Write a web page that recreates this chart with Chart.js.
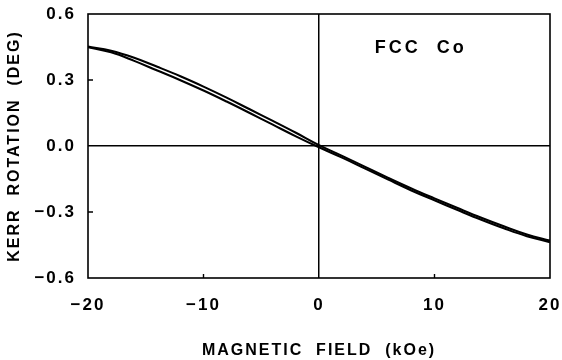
<!DOCTYPE html>
<html>
<head>
<meta charset="utf-8">
<script src="https://cdn.jsdelivr.net/npm/chart.js@4"></script>
<style>
  html, body { margin: 0; padding: 0; background: #fff; }
  #wrap { width: 562px; height: 360px; }
</style>
</head>
<body>
<div id="wrap"><canvas id="kerr"></canvas></div>
<script>
// field sweep (kOe) and Kerr rotation (deg) for the two branches of the loop
const fields = [-20, -18, -16, -14, -12, -10, -8, -6, -4, -2, 0, 2, 4, 6, 8, 10, 12, 14, 16, 18, 20];
const kerrUpper = [0.452, 0.433, 0.401, 0.360, 0.317, 0.270, 0.220, 0.167, 0.114, 0.060, 0.004,
  -0.045, -0.095, -0.145, -0.193, -0.238, -0.282, -0.325, -0.365, -0.402, -0.430];
const kerrLower = [0.449, 0.426, 0.387, 0.343, 0.299, 0.252, 0.202, 0.150, 0.097, 0.044, -0.006,
  -0.053, -0.103, -0.153, -0.202, -0.247, -0.291, -0.334, -0.374, -0.410, -0.437];

const xTickLabels = ['−20', '−10', '0', '10', '20'];
const yTickLabels = ['−0.6', '−0.3', '0.0', '0.3', '0.6'];
const sampleLabel = 'FCC  Co';
const sampleAt = { x: 8.8, y: 0.445 };

const tickFont = { family: 'Liberation Sans, Arial, sans-serif', size: 17, weight: 'bold' };
const titleFont = { family: 'Liberation Sans, Arial, sans-serif', size: 16, weight: 'bold' };

const toPoints = (ys) => fields.map((x, i) => ({ x, y: ys[i] }));

// only the zero lines are drawn across the plot
const zeroLine = (ctx) => (ctx.tick && ctx.tick.value === 0 ? '#000' : 'rgba(0,0,0,0)');

const spacing = {
  id: 'spacing',
  beforeUpdate(chart) { chart.ctx.letterSpacing = '2px'; },
  beforeDraw(chart) { chart.ctx.letterSpacing = '2px'; }
};

const frame = {
  id: 'frame',
  afterDatasetsDraw(chart) {
    const { ctx, chartArea: a, scales: { x, y } } = chart;
    ctx.save();
    ctx.strokeStyle = '#000';
    ctx.lineWidth = 1.6;
    ctx.strokeRect(a.left, a.top, a.right - a.left, a.bottom - a.top);
    // short inward ticks
    ctx.lineWidth = 1.4;
    ctx.beginPath();
    [-10, 10].forEach(v => {
      const px = x.getPixelForValue(v);
      ctx.moveTo(px, a.bottom);
      ctx.lineTo(px, a.bottom - 4);
    });
    [-0.3, 0.3].forEach(v => {
      const py = y.getPixelForValue(v);
      ctx.moveTo(a.left, py);
      ctx.lineTo(a.left + 5, py);
    });
    ctx.stroke();
    // sample name
    ctx.letterSpacing = '3px';
    ctx.font = 'bold 18px Liberation Sans, Arial, sans-serif';
    ctx.fillStyle = '#000';
    ctx.textAlign = 'center';
    ctx.textBaseline = 'middle';
    ctx.fillText(sampleLabel, x.getPixelForValue(sampleAt.x), y.getPixelForValue(sampleAt.y));
    ctx.restore();
  }
};

const lineStyle = {
  borderColor: '#000',
  borderWidth: 2.1,
  pointRadius: 0,
  tension: 0.4,
  fill: false
};

new Chart(document.getElementById('kerr'), {
  type: 'line',
  data: {
    datasets: [
      { label: 'upper', data: toPoints(kerrUpper), ...lineStyle },
      { label: 'lower', data: toPoints(kerrLower), ...lineStyle }
    ]
  },
  options: {
    responsive: true,
    maintainAspectRatio: false,
    animation: false,
    layout: { padding: { top: 14, right: 12, left: 0, bottom: 0 } },
    plugins: { legend: { display: false }, tooltip: { enabled: false } },
    scales: {
      x: {
        type: 'linear',
        min: -20,
        max: 20,
        afterBuildTicks(scale) { scale.ticks = [-20, -10, 0, 10, 20].map(v => ({ value: v })); },
        afterFit(scale) { scale.height = 82; scale.paddingLeft = 0; scale.paddingRight = 0; },
        ticks: {
          color: '#000',
          font: tickFont,
          padding: 17,
          maxRotation: 0,
          callback: (v, i) => xTickLabels[i]
        },
        grid: { color: zeroLine, lineWidth: 1.5, drawTicks: false },
        border: { display: false },
        title: {
          display: true,
          text: 'MAGNETIC  FIELD  (kOe)',
          color: '#000',
          font: titleFont,
          padding: { top: 0, bottom: 0 }
        }
      },
      y: {
        min: -0.6,
        max: 0.6,
        afterBuildTicks(scale) { scale.ticks = [-0.6, -0.3, 0, 0.3, 0.6].map(v => ({ value: v })); },
        afterFit(scale) { scale.width = 88; scale.paddingTop = 0; scale.paddingBottom = 0; },
        ticks: {
          color: '#000',
          font: tickFont,
          padding: 12,
          callback: (v, i) => yTickLabels[i]
        },
        grid: { color: zeroLine, lineWidth: 1.5, drawTicks: false },
        border: { display: false },
        title: {
          display: true,
          text: 'KERR  ROTATION  (DEG)',
          color: '#000',
          font: titleFont,
          padding: { top: 5, bottom: 0 }
        }
      }
    }
  },
  plugins: [spacing, frame]
});
</script>
</body>
</html>
